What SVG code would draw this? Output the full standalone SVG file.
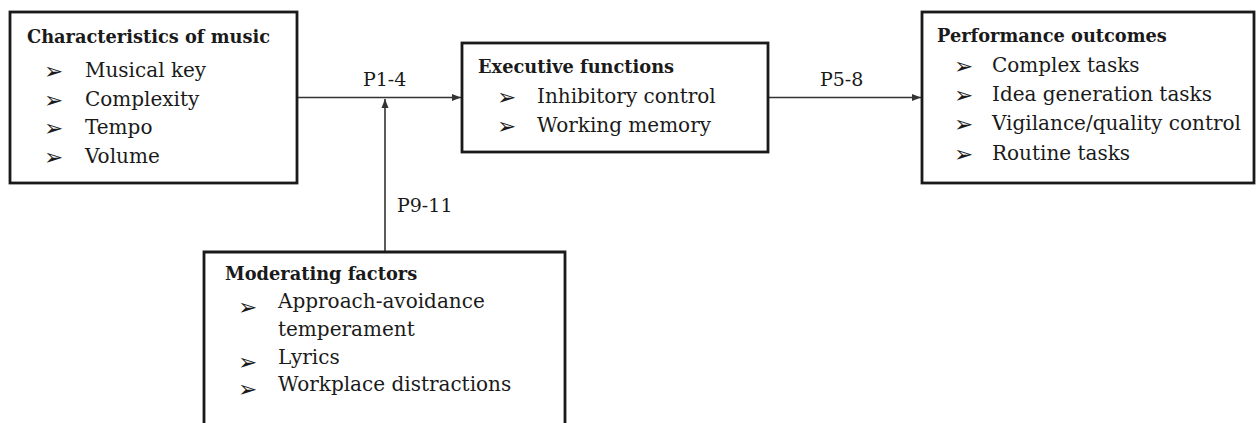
<svg xmlns="http://www.w3.org/2000/svg" width="1256" height="423" viewBox="0 0 1256 423">
<style>
.box{fill:#fff;stroke:#1a1a1a;stroke-width:2.8}
.t{font-family:"DejaVu Serif","Liberation Serif",serif;font-weight:bold;font-size:17.8px;fill:#1a1a1a}
.i{font-family:"DejaVu Serif","Liberation Serif",serif;font-size:20px;fill:#1a1a1a}
.b{font-family:"DejaVu Sans",sans-serif;font-size:23px;fill:#1a1a1a}
.lbl{font-family:"DejaVu Serif","Liberation Serif",serif;font-size:19px;fill:#1a1a1a}
.c{stroke:#333;stroke-width:1.6;fill:none}
</style>
<defs>
<marker id="ah" markerWidth="10" markerHeight="8" refX="9" refY="4" orient="auto" markerUnits="userSpaceOnUse">
<path d="M0,0.5 L9,4 L0,7.5 Z" fill="#333"/>
</marker>
</defs>
<g id="connectors">
<line class="c" x1="297" y1="97.5" x2="461" y2="97.5" marker-end="url(#ah)"/>
<line class="c" x1="768" y1="97.5" x2="921" y2="97.5" marker-end="url(#ah)"/>
<line class="c" x1="385" y1="252" x2="385" y2="99" marker-end="url(#ah)"/>
<text class="lbl" x="363" y="86">P1-4</text>
<text class="lbl" x="820" y="86">P5-8</text>
<text class="lbl" x="397" y="212">P9-11</text>
</g>
<g id="characteristics">
<rect class="box" x="10" y="12" width="287" height="171"/>
<text class="t" x="27" y="43">Characteristics of music</text>
<text class="b" x="44" y="79">➢</text><text class="i" x="85" y="77">Musical key</text>
<text class="b" x="44" y="108">➢</text><text class="i" x="85" y="106">Complexity</text>
<text class="b" x="44" y="136">➢</text><text class="i" x="85" y="134">Tempo</text>
<text class="b" x="44" y="165">➢</text><text class="i" x="85" y="163">Volume</text>
</g>
<g id="executive">
<rect class="box" x="462" y="43" width="306" height="109"/>
<text class="t" x="478" y="73">Executive functions</text>
<text class="b" x="497" y="105">➢</text><text class="i" x="537" y="103">Inhibitory control</text>
<text class="b" x="497" y="134">➢</text><text class="i" x="537" y="132">Working memory</text>
</g>
<g id="performance">
<rect class="box" x="922" y="12" width="332" height="171"/>
<text class="t" x="937" y="42">Performance outcomes</text>
<text class="b" x="954" y="74">➢</text><text class="i" x="992" y="72">Complex tasks</text>
<text class="b" x="954" y="103">➢</text><text class="i" x="992" y="101">Idea generation tasks</text>
<text class="b" x="954" y="132">➢</text><text class="i" x="992" y="130">Vigilance/quality control</text>
<text class="b" x="954" y="162">➢</text><text class="i" x="992" y="160">Routine tasks</text>
</g>
<g id="moderating">
<path class="box" d="M204,425 V252 H565 V425"/>
<text class="t" x="225" y="280">Moderating factors</text>
<text class="b" x="238" y="315">➢</text><text class="i" x="278" y="308">Approach-avoidance</text>
<text class="i" x="278" y="336">temperament</text>
<text class="b" x="238" y="370">➢</text><text class="i" x="278" y="364">Lyrics</text>
<text class="b" x="238" y="397">➢</text><text class="i" x="278" y="391">Workplace distractions</text>
</g>
</svg>
